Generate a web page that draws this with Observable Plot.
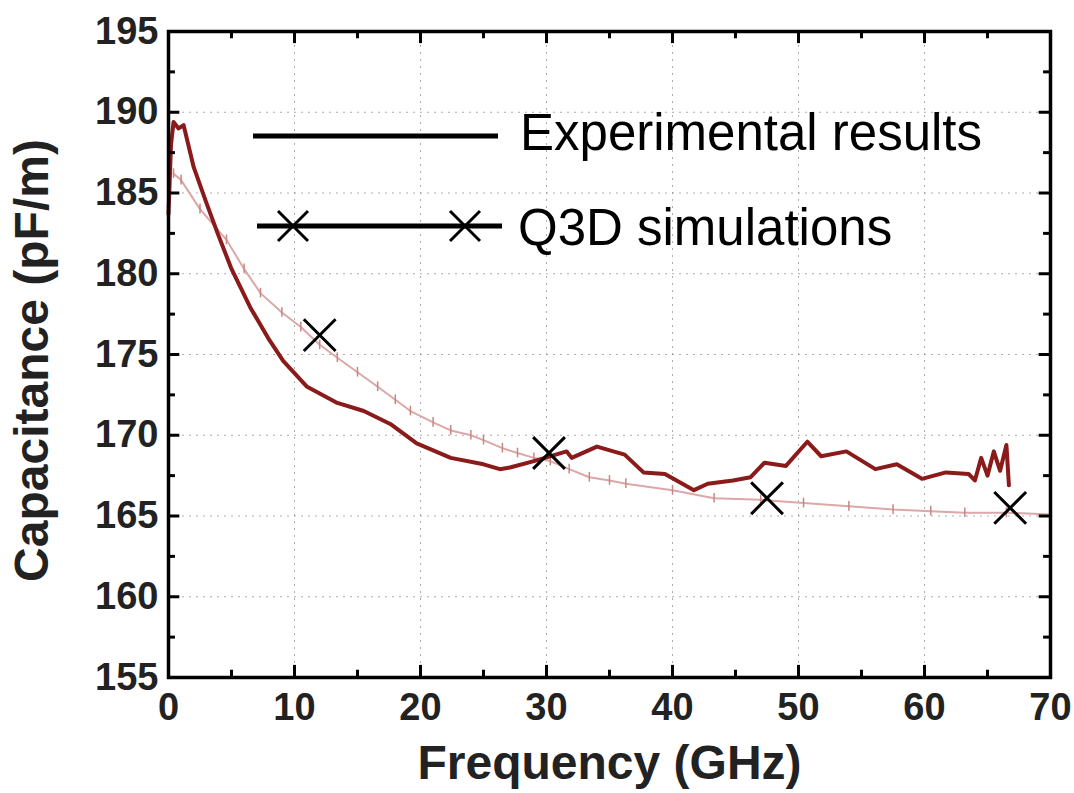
<!DOCTYPE html>
<html><head><meta charset="utf-8">
<script src="https://cdn.jsdelivr.net/npm/d3@7"></script>
<script src="https://cdn.jsdelivr.net/npm/@observablehq/plot@0.6"></script>
<style>
body{margin:0;background:#fff;}
#wrap{position:relative;width:1074px;height:793px;}
#legend{position:absolute;left:0;top:0;pointer-events:none;}
</style></head><body><div id="wrap"></div>
<script>
// Experimental results (dark red)
const expFreq = [0,0.2,0.4,0.8,1.2,2.0,3.0,3.9,5.0,6.5,8.0,9.1,11.0,13.4,15.5,17.6,19.7,22.4,25.0,26.3,27.1,29.0,31.6,32.0,34.0,36.2,37.7,39.4,41.7,42.8,44.8,46.2,47.3,49.0,50.7,51.8,53.8,56.1,57.8,59.8,61.7,63.5,64.0,64.5,65.0,65.5,66.0,66.5,66.7];
const expCap  = [183.7,188.0,189.4,189.0,189.2,186.6,184.4,182.5,180.3,177.9,175.9,174.6,173.0,172.0,171.5,170.7,169.5,168.6,168.2,167.9,168.0,168.4,169.0,168.6,169.3,168.8,167.7,167.6,166.6,167.0,167.2,167.4,168.3,168.1,169.6,168.7,169.0,167.9,168.2,167.3,167.7,167.6,167.2,168.6,167.5,169.0,167.8,169.4,166.9];
// second (light red, "+" marked) trace
const refFreq = [0.4,1.0,2.5,4.6,6.0,7.3,9.0,10.5,12.0,13.4,15.0,16.6,18.0,19.2,21.0,22.4,24.0,25.0,26.5,27.7,29.0,30.3,31.8,33.4,35.0,36.3,40.0,43.3,47.0,50.4,54.0,57.5,60.5,63.2,66.5,70.0];
const refCap  = [186.2,185.8,184.0,182.1,180.3,178.8,177.6,176.7,175.6,174.8,173.9,173.0,172.2,171.5,170.8,170.3,170.0,169.7,169.2,168.9,168.6,168.4,167.9,167.4,167.2,167.0,166.6,166.1,166.0,165.8,165.6,165.4,165.3,165.2,165.2,165.1];
// Q3D simulations (black crosses)
const q3dFreq = [12.0, 30.2, 47.5, 66.8];
const q3dCap  = [176.2, 168.9, 166.1, 165.5];
// axes
const xDomain = [0, 70];
const yDomain = [155, 195];
const xTicks = [0,10,20,30,40,50,60,70];
const xMinor = [5,15,25,35,45,55,65];
const yTicks = [155,160,165,170,175,180,185,190,195];
const yMinor = [157.5,162.5,167.5,172.5,177.5,182.5,187.5,192.5];
const xGrid = [10,20,30,40,50,60];
const yGrid = [160,165,170,175,180,185,190];

const exp = expFreq.map((f,i)=>({f, c:expCap[i]}));
const ref = refFreq.map((f,i)=>({f, c:refCap[i]}));
const q3d = q3dFreq.map((f,i)=>({f, c:q3dCap[i]}));

const majY = 0.75, minY = 0.45;   // tick lengths in y-units
const majX = 0.9, minX = 0.55;    // tick lengths in x-units

const plot = Plot.plot({
  width: 1074, height: 793,
  marginLeft: 168, marginRight: 24, marginTop: 31, marginBottom: 116,
  x: {domain: xDomain},
  y: {domain: yDomain},
  style: {fontFamily: "'Liberation Sans', Arial, sans-serif", background: "white", color: "black"},
  marks: [
    Plot.gridX(xGrid, {stroke: "#999", strokeOpacity: 0.8, strokeDasharray: "2,5", strokeWidth: 1}),
    Plot.gridY(yGrid, {stroke: "#999", strokeOpacity: 0.8, strokeDasharray: "2,5", strokeWidth: 1}),
    Plot.line(ref, {x: "f", y: "c", stroke: "#dca7a7", strokeWidth: 2}),
    Plot.ruleX(ref, {x: "f", y1: d => d.c - 0.3, y2: d => d.c + 0.3, stroke: "#c98585", strokeWidth: 1.5}),
    Plot.line(exp, {x: "f", y: "c", stroke: "#8b1a1a", strokeWidth: 4, strokeLinejoin: "round"}),
    Plot.dot(q3d, {x: "f", y: "c", symbol: "times", r: 14.5, stroke: "black", strokeWidth: 3}),
    // inward ticks: bottom & top
    Plot.ruleX(xTicks, {x: d => d, y1: yDomain[0], y2: yDomain[0] + majY, stroke: "black", strokeWidth: 3}),
    Plot.ruleX(xMinor, {x: d => d, y1: yDomain[0], y2: yDomain[0] + minY, stroke: "black", strokeWidth: 3}),
    Plot.ruleX(xTicks, {x: d => d, y1: yDomain[1] - majY, y2: yDomain[1], stroke: "black", strokeWidth: 3}),
    Plot.ruleX(xMinor, {x: d => d, y1: yDomain[1] - minY, y2: yDomain[1], stroke: "black", strokeWidth: 3}),
    // inward ticks: left & right
    Plot.ruleY(yTicks, {y: d => d, x1: xDomain[0], x2: xDomain[0] + majX, stroke: "black", strokeWidth: 3}),
    Plot.ruleY(yMinor, {y: d => d, x1: xDomain[0], x2: xDomain[0] + minX, stroke: "black", strokeWidth: 3}),
    Plot.ruleY(yTicks, {y: d => d, x1: xDomain[1] - majX, x2: xDomain[1], stroke: "black", strokeWidth: 3}),
    Plot.ruleY(yMinor, {y: d => d, x1: xDomain[1] - minX, x2: xDomain[1], stroke: "black", strokeWidth: 3}),
    Plot.frame({stroke: "black", strokeWidth: 3.5}),
    Plot.axisX(xTicks, {tickSize: 0, tickPadding: 16, fontSize: 38, fontWeight: "bold", label: null, fill: "#222"}),
    Plot.axisY(yTicks, {tickSize: 0, tickPadding: 10, fontSize: 38, fontWeight: "bold", label: null, fill: "#222"}),
    Plot.text(["Frequency (GHz)"], {frameAnchor: "bottom", dy: 101, fontSize: 48, fontWeight: "bold", fill: "#222", letterSpacing: 0.8}),
    Plot.text(["Capacitance (pF/m)"], {frameAnchor: "left", textAnchor: "middle", dx: -136, dy: 6, rotate: -90, fontSize: 48, fontWeight: "bold", fill: "#222", letterSpacing: 1})
  ]
});
const wrap = document.getElementById("wrap");
wrap.appendChild(plot);

// Legend overlay
const legendItems = ["Experimental results", "Q3D simulations"];
const ns = "http://www.w3.org/2000/svg";
const lg = document.createElementNS(ns, "svg");
lg.setAttribute("id", "legend");
lg.setAttribute("width", 1074); lg.setAttribute("height", 300);
lg.innerHTML = `
  <line x1="253" x2="498" y1="136" y2="136" stroke="black" stroke-width="5"/>
  <line x1="257" x2="502" y1="226" y2="226" stroke="black" stroke-width="5"/>
  <path d="M278,211L308,241M278,241L308,211 M450,211L480,241M450,241L480,211" stroke="black" stroke-width="3" fill="none"/>
  <text x="520" y="150" font-family="'Liberation Sans', Arial, sans-serif" font-size="51">${legendItems[0]}</text>
  <text x="518" y="245" font-family="'Liberation Sans', Arial, sans-serif" font-size="51">${legendItems[1]}</text>`;
wrap.appendChild(lg);
</script></body></html>
